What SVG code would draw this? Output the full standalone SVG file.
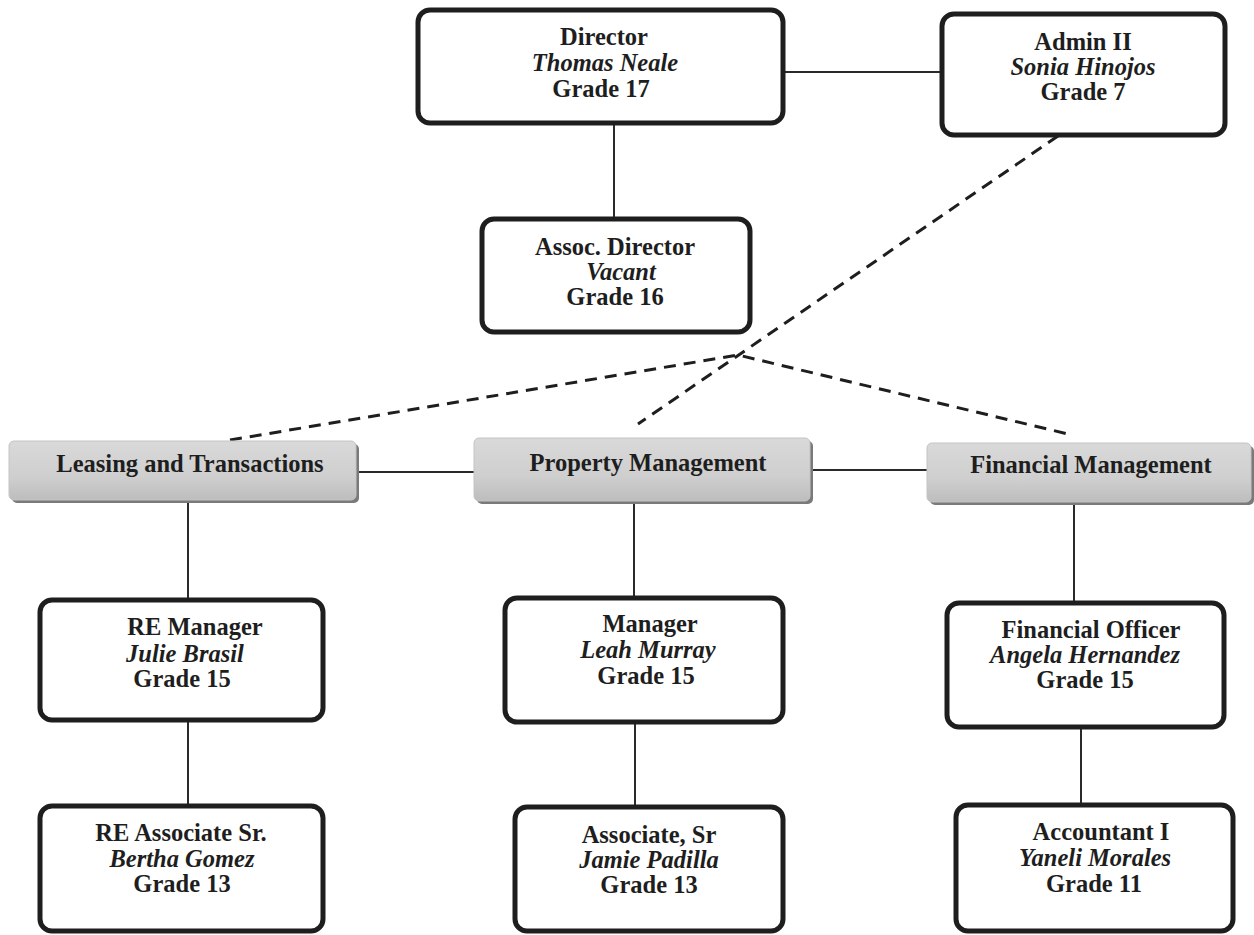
<svg xmlns="http://www.w3.org/2000/svg" width="1254" height="935" viewBox="0 0 1254 935">
<defs>
<linearGradient id="g" x1="0" y1="0" x2="0" y2="1">
<stop offset="0" stop-color="#d9d9d9"/>
<stop offset="0.6" stop-color="#cfcfcf"/>
<stop offset="1" stop-color="#bdbdbd"/>
</linearGradient>
<style>
.box{fill:#fff;stroke:#1e1e1e;stroke-width:5}
.dept{fill:url(#g);stroke:#c4c4c4;stroke-width:1}
.sh{fill:#7a7a7a}
.ln{stroke:#2a2a2a;stroke-width:2;fill:none}
.dl{stroke:#1e1e1e;stroke-width:3;fill:none;stroke-dasharray:12 8}
text{font-family:"Liberation Serif","Times New Roman",serif;font-size:24.5px;fill:#1e1e1e;text-anchor:middle}
.b{font-weight:bold}
.i{font-style:italic}
</style>
</defs>
<rect width="1254" height="935" fill="#fff"/>
<g id="connectors">
<line class="ln" x1="783" y1="72" x2="942" y2="72"/>
<line class="ln" x1="614" y1="125" x2="614" y2="218"/>
<line class="ln" x1="356" y1="472" x2="474" y2="472"/>
<line class="ln" x1="810" y1="470" x2="927" y2="470"/>
<line class="ln" x1="188" y1="502" x2="188" y2="599"/>
<line class="ln" x1="188" y1="720" x2="188" y2="805"/>
<line class="ln" x1="634" y1="504" x2="634" y2="597"/>
<line class="ln" x1="635" y1="724" x2="635" y2="806"/>
<line class="ln" x1="1074" y1="504" x2="1074" y2="602"/>
<line class="ln" x1="1081" y1="720" x2="1081" y2="804"/>
<line class="dl" x1="1058" y1="136" x2="638" y2="424"/>
<polyline class="dl" points="230,440 738,355 1068,434"/>
</g>
<g id="director">
<rect class="box" x="418" y="10" width="365" height="113" rx="12"/>
<text class="b" x="604" y="45">Director</text>
<text class="b i" x="605" y="71">Thomas Neale</text>
<text class="b" x="601" y="97">Grade 17</text>
</g>
<g id="admin">
<rect class="box" x="942" y="14" width="283" height="121" rx="12"/>
<text class="b" x="1083" y="50">Admin II</text>
<text class="b i" x="1083" y="75">Sonia Hinojos</text>
<text class="b" x="1083" y="100">Grade 7</text>
</g>
<g id="assoc-director">
<rect class="box" x="482" y="219" width="268" height="113" rx="12"/>
<text class="b" x="615" y="255">Assoc. Director</text>
<text class="b i" x="621" y="280">Vacant</text>
<text class="b" x="615" y="305">Grade 16</text>
</g>
<g id="leasing">
<rect class="sh" x="12" y="444" width="347" height="59" rx="5"/>
<rect class="dept" x="9" y="441" width="347" height="59" rx="5"/>
<text class="b" x="190" y="472">Leasing and Transactions</text>
</g>
<g id="property">
<rect class="sh" x="477" y="441" width="336" height="63" rx="5"/>
<rect class="dept" x="474" y="438" width="336" height="63" rx="5"/>
<text class="b" x="648" y="471">Property Management</text>
</g>
<g id="financial">
<rect class="sh" x="930" y="446" width="324" height="59" rx="5"/>
<rect class="dept" x="927" y="443" width="324" height="59" rx="5"/>
<text class="b" x="1091" y="473">Financial Management</text>
</g>
<g id="re-manager">
<rect class="box" x="40" y="600" width="283" height="120" rx="12"/>
<text class="b" x="195" y="635">RE Manager</text>
<text class="b i" x="185" y="662">Julie Brasil</text>
<text class="b" x="182" y="687">Grade 15</text>
</g>
<g id="re-associate">
<rect class="box" x="40" y="806" width="283" height="125" rx="12"/>
<text class="b" x="181" y="841">RE Associate Sr.</text>
<text class="b i" x="182" y="867">Bertha Gomez</text>
<text class="b" x="182" y="892">Grade 13</text>
</g>
<g id="manager">
<rect class="box" x="505" y="598" width="278" height="124" rx="12"/>
<text class="b" x="650" y="632">Manager</text>
<text class="b i" x="648" y="658">Leah Murray</text>
<text class="b" x="646" y="684">Grade 15</text>
</g>
<g id="associate-sr">
<rect class="box" x="515" y="807" width="268" height="124" rx="12"/>
<text class="b" x="649" y="843">Associate, Sr</text>
<text class="b i" x="649" y="868">Jamie Padilla</text>
<text class="b" x="649" y="893">Grade 13</text>
</g>
<g id="financial-officer">
<rect class="box" x="947" y="603" width="277" height="124" rx="12"/>
<text class="b" x="1091" y="638">Financial Officer</text>
<text class="b i" x="1085" y="663">Angela Hernandez</text>
<text class="b" x="1085" y="688">Grade 15</text>
</g>
<g id="accountant">
<rect class="box" x="956" y="805" width="277" height="126" rx="12"/>
<text class="b" x="1101" y="840">Accountant I</text>
<text class="b i" x="1095" y="866">Yaneli Morales</text>
<text class="b" x="1094" y="892">Grade 11</text>
</g>
</svg>
